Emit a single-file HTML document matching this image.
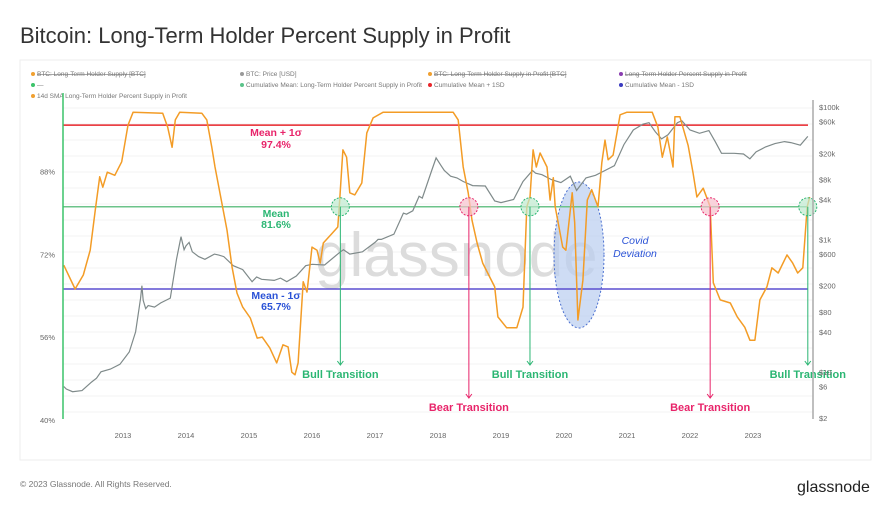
<!DOCTYPE html>
<html><head><meta charset="utf-8"><style>
body{margin:0;background:#fff;width:891px;height:513px;overflow:hidden;font-family:"Liberation Sans",sans-serif}
</style></head><body>
<svg width="891" height="513" xmlns="http://www.w3.org/2000/svg" font-family="Liberation Sans, sans-serif">
<text x="20" y="43" font-size="22" fill="#333">Bitcoin: Long-Term Holder Percent Supply in Profit</text>
<rect x="20" y="60" width="851" height="400" fill="none" stroke="#eee"/>
<g id="legend" font-size="6.5" fill="#777"></g>
<g id="grid"></g>
<text x="315" y="276" font-size="62" fill="#dcdcdc">glassnode</text>
<ellipse cx="579" cy="255" rx="25" ry="73" fill="#b9cdf0" fill-opacity="0.7" stroke="#4a6fd0" stroke-dasharray="2,2"/>
<g id="lines"></g>
<g id="ann"></g>
<line x1="63" y1="93" x2="63" y2="419" stroke="#3cc36a" stroke-width="1.5"/>
<line x1="813" y1="100" x2="813" y2="419" stroke="#aaa" stroke-width="1.5"/>
<g id="axes" font-size="7.5" fill="#666"></g>
<text x="20" y="487" font-size="8.5" fill="#777">© 2023 Glassnode. All Rights Reserved.</text>
<text x="797" y="492" font-size="16" fill="#222">glassnode</text>
</svg>
<script>
const pctYears=[2012.06,2012.24,2012.37,2012.48,2012.56,2012.63,2012.68,2012.75,2012.87,2012.98,2013.08,2013.16,2013.63,2013.71,2013.78,2013.83,2013.9,2014.25,2014.33,2014.41,2014.46,2014.65,2014.73,2014.81,2014.9,2015.02,2015.13,2015.21,2015.33,2015.44,2015.54,2015.62,2015.68,2015.73,2015.78,2015.86,2015.92,2016.0,2016.08,2016.13,2016.18,2016.32,2016.41,2016.44,2016.49,2016.55,2016.6,2016.68,2016.79,2016.87,2016.97,2017.13,2018.24,2018.32,2018.4,2018.48,2018.54,2018.62,2018.71,2018.9,2018.95,2019.09,2019.25,2019.35,2019.41,2019.46,2019.51,2019.56,2019.62,2019.73,2019.78,2019.83,2019.86,2019.98,2020.03,2020.13,2020.17,2020.22,2020.3,2020.37,2020.44,2020.54,2020.6,2020.65,2020.7,2020.78,2020.89,2021.0,2021.4,2021.49,2021.56,2021.64,2021.68,2021.73,2021.76,2021.84,2021.97,2022.05,2022.11,2022.21,2022.32,2022.37,2022.48,2022.64,2022.75,2022.87,2022.95,2023.03,2023.11,2023.22,2023.3,2023.4,2023.54,2023.63,2023.71,2023.79,2023.86,2023.9];
const pctValues=[70.3,65.7,68.4,73.2,81.0,87.4,85.4,88.3,87.7,90.3,97.4,99.9,99.7,97.0,93.1,98.4,99.9,99.7,98.4,93.1,89.3,77.1,70.0,64.9,62.2,60.1,56.2,56.4,54.3,51.4,54.9,54.5,49.6,49.1,51.4,67.1,65.1,73.8,73.2,70.7,74.6,76.5,77.7,82.9,92.6,91.2,84.3,83.9,86.2,95.9,98.8,99.9,99.9,98.4,89.3,84.3,79.0,74.6,70.7,66.1,60.3,58.2,58.2,62.2,81.6,83.5,92.6,89.3,92.0,89.3,82.9,87.2,81.6,73.8,73.2,84.3,78.5,59.7,67.4,82.9,84.9,81.6,90.1,94.5,90.7,91.6,99.4,99.9,99.9,97.0,91.2,95.1,92.6,89.3,99.0,99.0,93.5,88.1,83.5,85.2,81.6,66.9,63.6,63.0,60.3,58.3,55.8,55.8,63.6,66.1,69.8,68.8,72.3,70.7,68.8,69.8,81.6,83.5];
const priceYears=[2012.06,2012.1,2012.2,2012.35,2012.5,2012.58,2012.65,2012.8,2012.95,2013.1,2013.2,2013.28,2013.3,2013.32,2013.36,2013.4,2013.5,2013.6,2013.75,2013.85,2013.92,2013.97,2014.0,2014.05,2014.1,2014.2,2014.3,2014.45,2014.52,2014.6,2014.75,2014.9,2015.05,2015.12,2015.2,2015.4,2015.5,2015.6,2015.75,2015.9,2016.0,2016.2,2016.45,2016.5,2016.6,2016.8,2017.0,2017.05,2017.1,2017.3,2017.45,2017.5,2017.6,2017.7,2017.75,2017.9,2017.97,2018.05,2018.1,2018.2,2018.3,2018.4,2018.55,2018.75,2018.9,2019.0,2019.2,2019.35,2019.5,2019.55,2019.65,2019.8,2019.95,2020.1,2020.2,2020.35,2020.5,2020.65,2020.8,2020.95,2021.1,2021.25,2021.35,2021.45,2021.55,2021.65,2021.8,2021.87,2022.0,2022.15,2022.3,2022.4,2022.5,2022.7,2022.85,2022.95,2023.05,2023.2,2023.35,2023.5,2023.6,2023.75,2023.87];
const priceValues=[6,5.5,5,5.2,7,8,10,11,13,20,40,130,200,120,90,100,95,110,130,500,1100,700,800,900,650,550,500,600,580,550,400,350,230,270,250,240,260,230,280,400,420,410,650,700,600,650,900,1000,1000,1200,2500,2400,2700,4500,4200,11000,17000,13000,11000,9000,8500,7500,6500,6400,3800,3600,4000,7500,11000,10000,9500,8000,7200,9000,5500,8500,9300,11000,13000,27000,45000,55000,58000,42000,33000,38000,58000,62000,45000,40000,44000,30000,20000,20000,19500,16500,21000,25000,28000,30000,29000,26500,36000];
const xTicks=[2013,2014,2015,2016,2017,2018,2019,2020,2021,2022,2023];
const yTicks=[40,56,72,88];
const priceTicks=[[100000,"$100k"],[60000,"$60k"],[20000,"$20k"],[8000,"$8k"],[4000,"$4k"],[1000,"$1k"],[600,"$600"],[200,"$200"],[80,"$80"],[40,"$40"],[10,"$10"],[6,"$6"],[2,"$2"]];
const bands=[[97.4,"#e8262b"],[81.6,"#6cc38a"],[65.7,"#5b4fd0"]];
const transitions=[[2016.45,"bull"],[2018.49,"bear"],[2019.46,"bull"],[2022.32,"bear"],[2023.87,"bull"]];

const NS="http://www.w3.org/2000/svg";
const X=y=>123+(y-2013)*63;
const Y=p=>289-(p-65.7)*5.17;
const YP=v=>107+(5-Math.log10(v))*66.2;
function mk(tag,attrs,parent,txt){const e=document.createElementNS(NS,tag);for(const k in attrs)e.setAttribute(k,attrs[k]);if(txt!==undefined)e.textContent=txt;document.getElementById(parent).appendChild(e);return e;}

const leg=[[33,76,"#f0a030","BTC: Long-Term Holder Supply [BTC]",1],[242,76,"#999","BTC: Price [USD]",0],[430,76,"#f0a030","BTC: Long-Term Holder Supply in Profit [BTC]",1],[621,76,"#8a3db0","Long-Term Holder Percent Supply in Profit",1],[33,87,"#3cc36a","—",0],[242,87,"#5bc38a","Cumulative Mean: Long-Term Holder Percent Supply in Profit",0],[430,87,"#e8262b","Cumulative Mean + 1SD",0],[621,87,"#3b3bc0","Cumulative Mean - 1SD",0],[33,98,"#f0a030","14d SMA Long-Term Holder Percent Supply in Profit",0]];
leg.forEach(l=>{
 const c=mk('circle',{cx:l[0],cy:l[1]-2,r:2,fill:l[2]},'legend');
 
 
 const t=mk('text',{x:l[0]+4,y:l[1],'text-decoration':l[4]?'line-through':'none'},'legend',l[3]);
 
 
});
for(let i=0;i<20;i++){const y=108+i*16;const g=mk('line',{x1:63,x2:813,y1:y,y2:y,stroke:'#f3f3f3'},'grid');
 
 }
xTicks.forEach(t=>{const e=mk('text',{x:X(t),y:438,'text-anchor':'middle'},'axes',String(t));
 
 });
yTicks.forEach(t=>{const e=mk('text',{x:40,y:Y(t)+1},'axes',t+'%');
 
 });
priceTicks.forEach(t=>{const e=mk('text',{x:819,y:YP(t[0])+3},'axes',t[1]);
 
 });
bands.forEach(b=>{const e=mk('line',{x1:63,x2:808,y1:Y(b[0]),y2:Y(b[0]),stroke:b[1],'stroke-width':1.5},'lines');
 
 });
let d=priceYears.map((t,i)=>(i?'L':'M')+X(t).toFixed(1)+','+YP(priceValues[i]).toFixed(1)).join('');
const pp=mk('path',{d:d,fill:'none',stroke:'#7f8a8a','stroke-width':1.2},'lines');


d=pctYears.map((t,i)=>(i?'L':'M')+X(t).toFixed(1)+','+Y(Math.min(pctValues[i],99.9)).toFixed(1)).join('');
const pl=mk('path',{d:d,fill:'none',stroke:'#f39c26','stroke-width':1.5,'stroke-linejoin':'round'},'lines');


const lab=[[276,136,"#e8246a","Mean + 1σ"],[276,148,"#e8246a","97.4%"],[276,217,"#2bb673","Mean"],[276,228,"#2bb673","81.6%"],[276,299,"#2a52d6","Mean - 1σ"],[276,310,"#2a52d6","65.7%"]];
lab.forEach(l=>{const e=mk('text',{x:l[0],y:l[1],fill:l[2],'font-size':10.5,'font-weight':'bold','text-anchor':'middle'},'ann',l[3]);
 
 });
const ym=Y(81.6);
transitions.forEach(t=>{
 const x=X(t[0]),bull=t[1]=='bull',col=bull?'#2bb673':'#e8246a',end=bull?365:398;
 const c=mk('circle',{cx:x,cy:ym,r:9,fill:bull?'#bfe9cf':'#f7c0cc','fill-opacity':0.7,stroke:col,'stroke-dasharray':'2,1.5'},'ann');
 
 
 const l=mk('path',{d:`M${x},${ym}L${x},${end}M${x-3},${end-4}L${x},${end}L${x+3},${end-4}`,stroke:col,fill:'none','stroke-width':1},'ann');
 
 
 const tx=mk('text',{x:x,y:end+13,fill:col,'font-size':11,'font-weight':'bold','text-anchor':'middle'},'ann',bull?'Bull Transition':'Bear Transition');
 
 
});
[["Covid",244],["Deviation",257]].forEach(c=>{const e=mk('text',{x:635,y:c[1],fill:'#2a52d6','font-size':10.5,'font-style':'italic','text-anchor':'middle'},'ann',c[0]);
 
 });
</script>
</body></html>
